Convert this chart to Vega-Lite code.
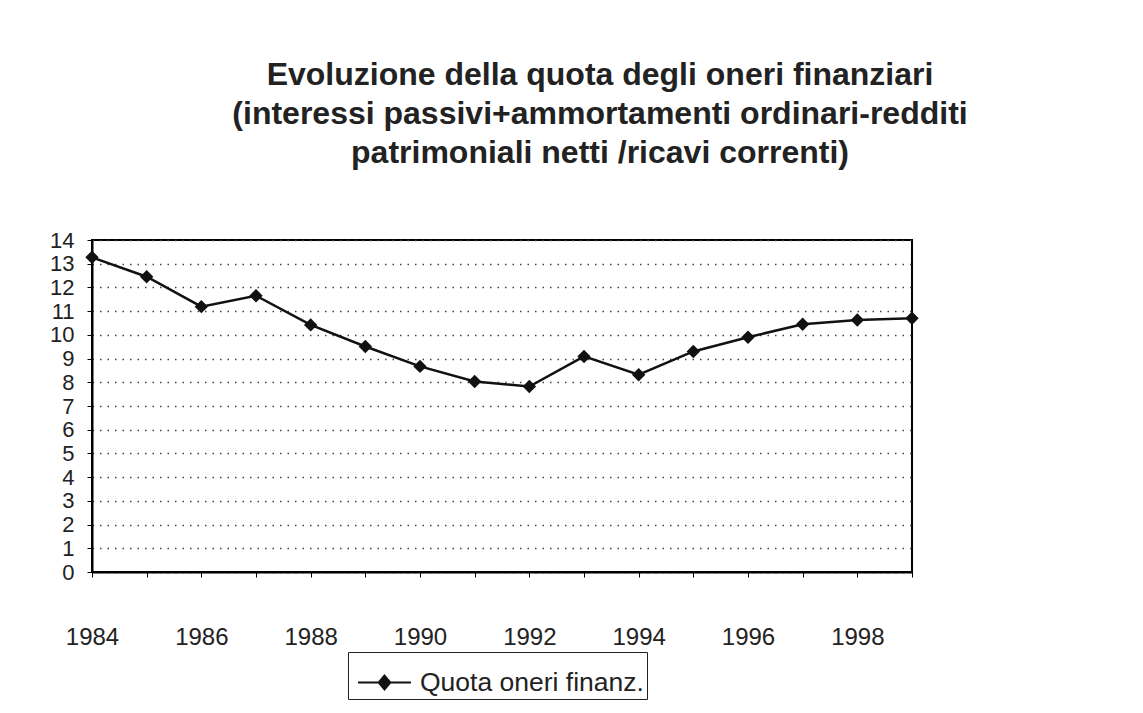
{
  "$schema": "https://vega.github.io/schema/vega-lite/v6.json",
  "width": 820,
  "height": 332,
  "autosize": {"type": "none"},
  "padding": {"left": 92, "top": 240, "right": 231, "bottom": 141},
  "background": "white",
  "title": {
    "text": ["Evoluzione della quota degli oneri finanziari", "(interessi passivi+ammortamenti ordinari-redditi", "patrimoniali netti /ricavi correnti)"],
    "font": "Liberation Sans",
    "fontSize": 32,
    "fontWeight": "bold",
    "color": "#222222",
    "anchor": "middle",
    "dx": 98,
    "offset": 59,
    "lineHeight": 39
  },
  "data": {
    "values": [
      {"anno": 1984, "quota": 13.27, "serie": "Quota oneri finanz."},
      {"anno": 1985, "quota": 12.45, "serie": "Quota oneri finanz."},
      {"anno": 1986, "quota": 11.19, "serie": "Quota oneri finanz."},
      {"anno": 1987, "quota": 11.65, "serie": "Quota oneri finanz."},
      {"anno": 1988, "quota": 10.42, "serie": "Quota oneri finanz."},
      {"anno": 1989, "quota": 9.51, "serie": "Quota oneri finanz."},
      {"anno": 1990, "quota": 8.67, "serie": "Quota oneri finanz."},
      {"anno": 1991, "quota": 8.03, "serie": "Quota oneri finanz."},
      {"anno": 1992, "quota": 7.82, "serie": "Quota oneri finanz."},
      {"anno": 1993, "quota": 9.09, "serie": "Quota oneri finanz."},
      {"anno": 1994, "quota": 8.32, "serie": "Quota oneri finanz."},
      {"anno": 1995, "quota": 9.3, "serie": "Quota oneri finanz."},
      {"anno": 1996, "quota": 9.9, "serie": "Quota oneri finanz."},
      {"anno": 1997, "quota": 10.45, "serie": "Quota oneri finanz."},
      {"anno": 1998, "quota": 10.63, "serie": "Quota oneri finanz."},
      {"anno": 1999, "quota": 10.7, "serie": "Quota oneri finanz."}
    ]
  },
  "mark": {
    "type": "line",
    "strokeWidth": 2.5,
    "point": {"shape": "diamond", "size": 180, "filled": true}
  },
  "encoding": {
    "x": {
      "field": "anno",
      "type": "quantitative",
      "scale": {"domain": [1984, 1999], "nice": false, "zero": false},
      "axis": {
        "title": null,
        "values": [1984, 1985, 1986, 1987, 1988, 1989, 1990, 1991, 1992, 1993, 1994, 1995, 1996, 1997, 1998, 1999],
        "labelExpr": "datum.value % 2 == 0 ? format(datum.value, 'd') : ''",
        "grid": false,
        "tickSize": 5,
        "tickColor": "black",
        "domainColor": "black",
        "domainWidth": 2,
        "labelFont": "Liberation Sans",
        "labelFontSize": 24,
        "labelColor": "#222222",
        "labelPadding": 48,
        "labelFlush": false,
        "labelOverlap": false
      }
    },
    "y": {
      "field": "quota",
      "type": "quantitative",
      "scale": {"domain": [0, 14], "nice": false, "zero": true},
      "axis": {
        "title": null,
        "values": [0, 1, 2, 3, 4, 5, 6, 7, 8, 9, 10, 11, 12, 13, 14],
        "format": "d",
        "grid": true,
        "gridColor": "#444444",
        "gridDash": [1.5, 6],
        "gridWidth": 1.3,
        "tickSize": 5,
        "tickColor": "black",
        "domainColor": "black",
        "domainWidth": 2,
        "labelFont": "Liberation Sans",
        "labelFontSize": 22,
        "labelColor": "#222222",
        "labelPadding": 13,
        "labelOverlap": false,
        "labelFlush": false
      }
    },
    "color": {
      "field": "serie",
      "type": "nominal",
      "scale": {"range": ["#111111"]},
      "legend": {
        "title": null,
        "orient": "none",
        "legendX": 256,
        "legendY": 412,
        "strokeColor": "#222222",
        "padding": 3,
        "labelFont": "Liberation Sans",
        "labelFontSize": 26.5,
        "labelColor": "#222222",
        "labelLimit": 500,
        "symbolType": "M-1,0H1M0,-0.26L0.22,0L0,0.26L-0.22,0Z",
        "symbolSize": 2800,
        "symbolStrokeWidth": 2,
        "symbolStrokeColor": "#111111",
        "symbolFillColor": "#111111",
        "symbolOffset": 6,
        "labelOffset": 8
      }
    }
  },
  "config": {
    "view": {"stroke": "black", "strokeWidth": 2}
  }
}
